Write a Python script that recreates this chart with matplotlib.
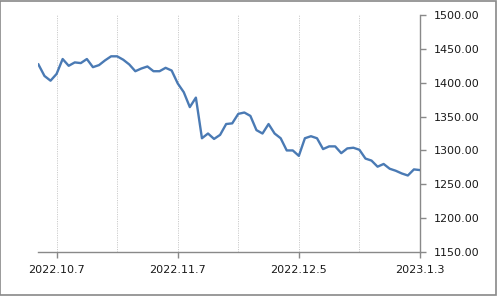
import matplotlib.pyplot as plt
from matplotlib.patches import Rectangle

# daily values
values = [1427, 1410, 1403, 1413, 1435, 1425, 1430, 1429, 1435, 1423,
          1426, 1433, 1439, 1439, 1434, 1427, 1417, 1421, 1424, 1417,
          1417, 1422, 1418, 1399, 1386, 1364, 1378, 1318, 1325, 1317,
          1323, 1339, 1340, 1354, 1356, 1351, 1330, 1325, 1339, 1325,
          1318, 1300, 1300, 1292, 1318, 1321, 1318, 1302, 1306, 1306,
          1296, 1303, 1304, 1301, 1288, 1285, 1276, 1280, 1273, 1270,
          1266, 1263, 1272, 1271]
tick_idx = [3, 23, 43, 63]
tick_labels = ["2022.10.7", "2022.11.7", "2022.12.5", "2023.1.3"]
grid_idx = [3, 13, 23, 33, 43, 53]
y_ticks = [1150, 1200, 1250, 1300, 1350, 1400, 1450, 1500]

plt.rcParams["font.family"] = ["DejaVu Sans"]
axis_grey = "#898989"

fig = plt.figure(figsize=(4.97, 2.96), dpi=100)
fig.patches.append(Rectangle((0.001, 0.002), 0.997, 0.995, transform=fig.transFigure,
                             fill=False, edgecolor=axis_grey, linewidth=1.2))
ax = fig.add_axes([0.0773, 0.1486, 0.7677, 0.8007])

for g in grid_idx:
    ax.axvline(g, color="#cccccc", linestyle=(0, (1.2, 1.2)), linewidth=0.7, zorder=1)

ax.plot(range(len(values)), values, color="#4a7ab4", linewidth=1.7, zorder=3)

ax.set_xlim(0, len(values) - 1)
ax.set_ylim(1150, 1500)
ax.set_xticks(tick_idx)
ax.set_xticklabels(tick_labels)
ax.set_yticks(y_ticks)
ax.set_yticklabels([f"{v:.2f}" for v in y_ticks])
ax.yaxis.tick_right()

for side in ["top", "left"]:
    ax.spines[side].set_visible(False)
for side in ["bottom", "right"]:
    ax.spines[side].set_color(axis_grey)
    ax.spines[side].set_linewidth(1.0)

ax.tick_params(axis="both", direction="out", length=4, width=1.0, color=axis_grey,
               labelsize=8, labelcolor="#1a1a1a")
ax.tick_params(axis="y", pad=6)
ax.tick_params(axis="x", pad=5)

fig.savefig("out.png", dpi=100)
